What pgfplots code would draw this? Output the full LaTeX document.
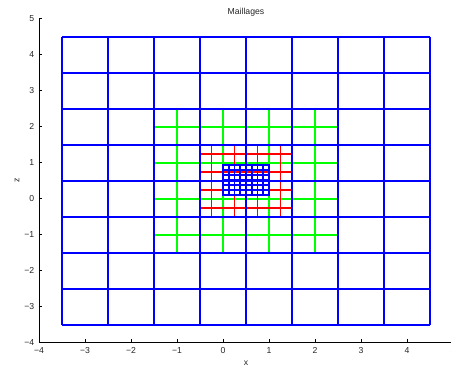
\documentclass[border=0pt]{standalone}
\usepackage{pgfplots}
\pgfplotsset{compat=1.18}
\usepackage{fontspec}
\setmainfont{Liberation Sans}
\definecolor{mblue}{rgb}{0,0,1}
\definecolor{mgreen}{rgb}{0,1,0}
\definecolor{mred}{rgb}{1,0,0}
\begin{document}
\begin{tikzpicture}
\begin{axis}[
  scale only axis, width=310.5pt, height=243pt,
  xmin=-4, xmax=5, ymin=-4, ymax=5,
  axis x line*=bottom, axis y line*=left,
  axis line style={black, line width=0.6pt},
  xtick={-4,-3,-2,-1,0,1,2,3,4,5},
  ytick={-4,-3,-2,-1,0,1,2,3,4,5},
  xticklabels={−4,−3,−2,−1,0,1,2,3,4,5},
  yticklabels={−4,−3,−2,−1,0,1,2,3,4,5},
  tick align=inside, major tick length=2.5pt,
  tick style={black, line width=0.5pt},
  ticklabel style={font=\fontsize{6.5}{7}\selectfont, text=black!85},
  label style={font=\fontsize{6.5}{7}\selectfont, text=black!85},
  every axis title shift=0pt,
  title style={font=\fontsize{6.5}{7}\selectfont, text=black!85, at={(0.5,1)}, anchor=south, yshift=-1.5pt},
  title={Maillages}, xlabel={x}, ylabel={z},
  xlabel style={yshift=1pt},
  ylabel style={yshift=-3pt},
  unbounded coords=jump,
  clip=false,
]
\coordinate (sw) at (rel axis cs:0,0);
% green mesh
\addplot[mgreen, line width=1.4pt] coordinates {
 (-1,-1.5) (-1,2.5) (nan,nan) (0,-1.5) (0,2.5) (nan,nan) (1,-1.5) (1,2.5) (nan,nan) (2,-1.5) (2,2.5) (nan,nan)
 (-1.5,-1) (2.5,-1) (nan,nan) (-1.5,0) (2.5,0) (nan,nan) (-1.5,1) (2.5,1) (nan,nan) (-1.5,2) (2.5,2)
};
% red mesh
\addplot[mred, line width=1.4pt] coordinates {
 (-0.25,-0.5) (-0.25,1.5) (nan,nan) (0.25,-0.5) (0.25,1.5) (nan,nan) (0.75,-0.5) (0.75,1.5) (nan,nan) (1.25,-0.5) (1.25,1.5) (nan,nan)
 (-0.5,-0.25) (1.5,-0.25) (nan,nan) (-0.5,0.25) (1.5,0.25) (nan,nan) (-0.5,0.75) (1.5,0.75) (nan,nan) (-0.5,1.25) (1.5,1.25)
};
% fine blue mesh
\addplot[mblue, line width=1.4pt] coordinates {
 (0,0.08) (0,0.96) (nan,nan) (0.125,0.08) (0.125,0.96) (nan,nan) (0.25,0.08) (0.25,0.96) (nan,nan)
 (0.375,0.08) (0.375,0.96) (nan,nan) (0.5,0.08) (0.5,0.96) (nan,nan) (0.625,0.08) (0.625,0.96) (nan,nan)
 (0.75,0.08) (0.75,0.96) (nan,nan) (0.875,0.08) (0.875,0.96) (nan,nan) (1,0.08) (1,0.96) (nan,nan)
 (0,0.1) (1,0.1) (nan,nan) (0,0.24) (1,0.24) (nan,nan) (0,0.38) (1,0.38) (nan,nan) (0,0.52) (1,0.52) (nan,nan)
 (0,0.66) (1,0.66) (nan,nan) (0,0.8) (1,0.8) (nan,nan) (0,0.94) (1,0.94)
};
% coarse blue mesh
\addplot[mblue, line width=1.5pt] coordinates {
 (-3.5,-3.5) (-3.5,4.5) (nan,nan) (-2.5,-3.5) (-2.5,4.5) (nan,nan) (-1.5,-3.5) (-1.5,4.5) (nan,nan)
 (-0.5,-3.5) (-0.5,4.5) (nan,nan) (0.5,-3.5) (0.5,4.5) (nan,nan) (1.5,-3.5) (1.5,4.5) (nan,nan)
 (2.5,-3.5) (2.5,4.5) (nan,nan) (3.5,-3.5) (3.5,4.5) (nan,nan) (4.5,-3.5) (4.5,4.5) (nan,nan)
 (-3.5,-3.5) (4.5,-3.5) (nan,nan) (-3.5,-2.5) (4.5,-2.5) (nan,nan) (-3.5,-1.5) (4.5,-1.5) (nan,nan)
 (-3.5,-0.5) (4.5,-0.5) (nan,nan) (-3.5,0.5) (4.5,0.5) (nan,nan) (-3.5,1.5) (4.5,1.5) (nan,nan)
 (-3.5,2.5) (4.5,2.5) (nan,nan) (-3.5,3.5) (4.5,3.5) (nan,nan) (-3.5,4.5) (4.5,4.5)
};
\end{axis}
\pgfresetboundingbox
\path[use as bounding box] ([shift={(-29.25pt,-19pt)}]sw) rectangle ([shift={(309pt,257pt)}]sw);
\end{tikzpicture}
\end{document}
